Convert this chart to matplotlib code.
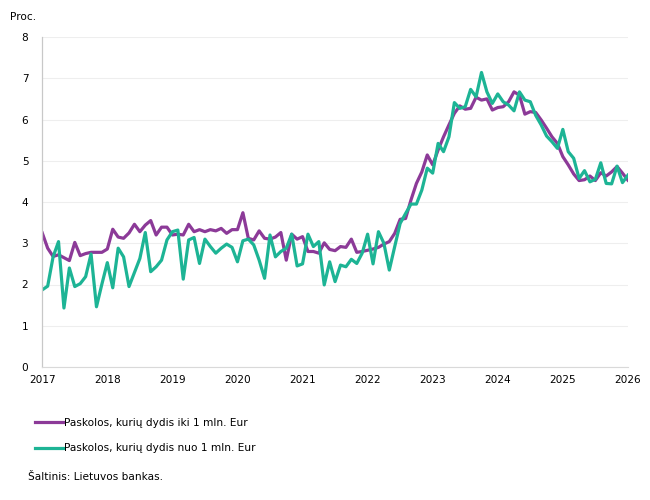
import numpy as np
import matplotlib
matplotlib.use("Agg")
import matplotlib.pyplot as plt

# Monthly values, Jan 2017 - Jan 2026 (percent)
small_loans = [
    3.25, 2.88, 2.68, 2.72, 2.65, 2.58, 3.02, 2.70, 2.75, 2.78, 2.78, 2.78,
    2.86, 3.34, 3.15, 3.12, 3.25, 3.46, 3.28, 3.44, 3.55, 3.20, 3.39, 3.39,
    3.20, 3.22, 3.20, 3.46, 3.28, 3.33, 3.28, 3.33, 3.30, 3.36, 3.24, 3.33,
    3.33, 3.74, 3.12, 3.08, 3.30, 3.12, 3.10, 3.15, 3.26, 2.59, 3.22, 3.10,
    3.16, 2.80, 2.80, 2.76, 3.01, 2.85, 2.82, 2.92, 2.90, 3.10, 2.78, 2.80,
    2.83, 2.86, 2.90, 2.98, 3.04, 3.24, 3.58, 3.60, 4.05, 4.45, 4.73, 5.14,
    4.90, 5.26, 5.58, 5.87, 6.15, 6.33, 6.25, 6.27, 6.54, 6.47, 6.50, 6.23,
    6.29, 6.31, 6.43, 6.67, 6.59, 6.13, 6.19, 6.17, 5.99, 5.79, 5.58, 5.42,
    5.10, 4.90, 4.68, 4.52, 4.54, 4.63, 4.52, 4.71, 4.63, 4.73, 4.86, 4.70,
    4.53,
]
large_loans = [
    1.87, 1.96, 2.67, 3.04, 1.43, 2.40, 1.95, 2.02, 2.19, 2.74, 1.46, 2.01,
    2.53, 1.92, 2.88, 2.67, 1.95, 2.29, 2.63, 3.26, 2.31, 2.43, 2.59, 3.08,
    3.28, 3.32, 2.13, 3.08, 3.14, 2.51, 3.10, 2.92, 2.76, 2.88, 2.98, 2.90,
    2.55, 3.06, 3.10, 2.96, 2.59, 2.15, 3.20, 2.67, 2.80, 2.88, 3.22, 2.45,
    2.50, 3.22, 2.92, 3.04, 1.99, 2.55, 2.07, 2.47, 2.43, 2.61, 2.51, 2.76,
    3.22, 2.50, 3.28, 3.00, 2.35, 2.92, 3.48, 3.72, 3.95, 3.95, 4.29, 4.82,
    4.70, 5.42, 5.22, 5.58, 6.41, 6.27, 6.31, 6.73, 6.55, 7.14, 6.67, 6.39,
    6.62, 6.43, 6.35, 6.21, 6.67, 6.47, 6.43, 6.10, 5.87, 5.60, 5.46, 5.30,
    5.76, 5.22, 5.06, 4.57, 4.76, 4.49, 4.55, 4.95, 4.45, 4.44, 4.87, 4.47,
    4.65,
]
years = list(range(2017, 2027))
labels = ["Paskolos, kurių dydis iki 1 mln. Eur",
          "Paskolos, kurių dydis nuo 1 mln. Eur"]

PURPLE = "#8C3A98"
GREEN = "#1DB495"
FONTSIZE = 7.6

plt.rcParams['font.family'] = ['DejaVu Sans']

t = 2017 + np.arange(len(small_loans)) / 12.0

fig = plt.figure(figsize=(6.5, 5.0), dpi=100)
ax = fig.add_axes([0.065, 0.266, 0.901, 0.66])

ax.plot(t, small_loans, color=PURPLE, lw=2.3, label=labels[0], solid_joinstyle="round")
ax.plot(t, large_loans, color=GREEN, lw=2.3, label=labels[1], solid_joinstyle="round")

ax.set_xlim(2017, 2026)
ax.set_ylim(0, 8)
ax.set_xticks(years)
ax.set_yticks(range(0, 9))
ax.tick_params(axis="both", length=0, labelsize=FONTSIZE, colors="black")
ax.tick_params(axis="x", pad=6)
ax.tick_params(axis="y", pad=10)
ax.grid(axis="y", color="#EEEEEE", lw=0.8)
ax.set_axisbelow(True)

for side in ["top", "right"]:
    ax.spines[side].set_visible(False)
ax.spines["left"].set_color("#C8C8C8")
ax.spines["bottom"].set_color("#D9D9D9")
ax.spines["left"].set_linewidth(0.9)
ax.spines["bottom"].set_linewidth(0.8)

fig.text(0.015, 0.965, "Proc.", fontsize=FONTSIZE, va="center", ha="left")

leg = fig.legend(loc="upper left", bbox_to_anchor=(0.054, 0.164), frameon=False,
                 fontsize=FONTSIZE, handlelength=2.6, handletextpad=0.15,
                 labelspacing=1.45, borderpad=0, borderaxespad=0)

fig.text(0.043, 0.046, "Šaltinis: Lietuvos bankas.", fontsize=FONTSIZE, va="center", ha="left")

fig.savefig("out.png", dpi=100)
